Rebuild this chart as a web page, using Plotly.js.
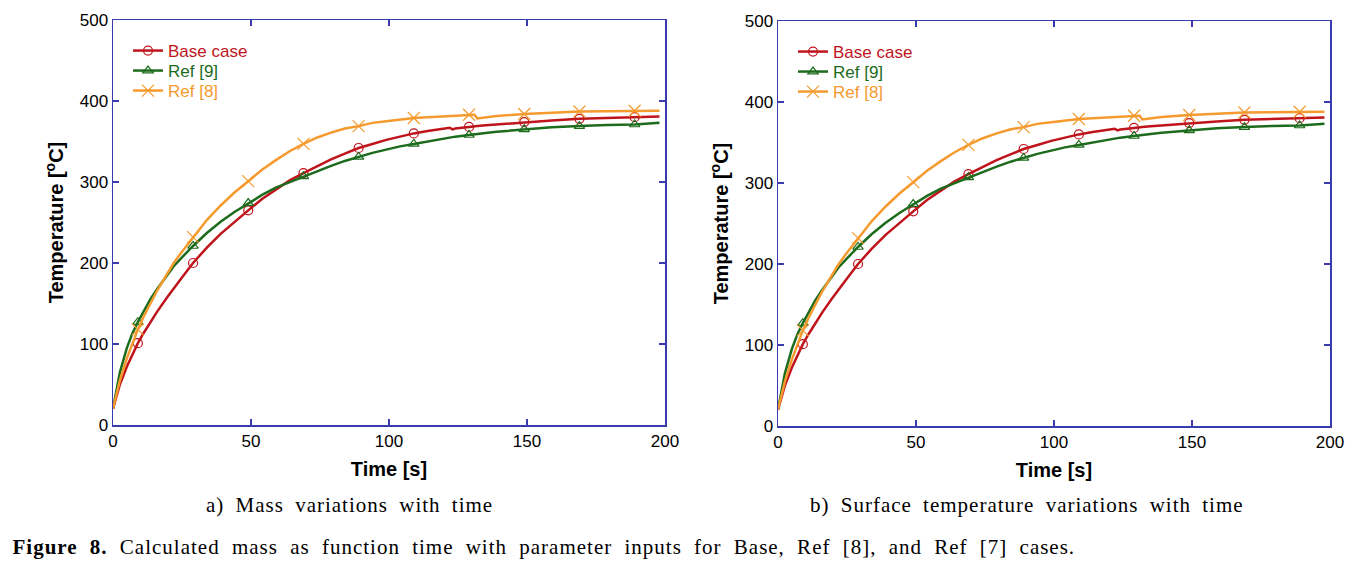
<!DOCTYPE html>
<html>
<head>
<meta charset="utf-8">
<script src="https://cdn.plot.ly/plotly-3.0.1.min.js"></script>
<style>
html, body { margin: 0; padding: 0; background: #ffffff; }
#chart { width: 1365px; height: 564px; }
.annotation-text { letter-spacing: 1px; word-spacing: 5px; }
.annotation[data-index="2"] .annotation-text { letter-spacing: 1px; word-spacing: 6px; }
</style>
</head>
<body>
<div id="chart"></div>
<script>
// ---- data ----
const timeS = [0, 1, 2.5, 5, 7, 9, 11, 13.5, 16, 19.5, 22, 25, 29, 34, 39, 44, 49, 54, 59, 64, 69, 74, 79, 84, 89, 94, 99, 104, 109, 114, 119, 122, 123, 124, 129, 131, 132, 135, 139, 149, 159, 169, 179, 189, 198];
const baseCase = [20, 33, 50, 72, 87, 101, 113, 127, 140, 157, 169, 182, 200, 219, 236, 251, 265, 279, 291, 302, 311, 320, 328, 335, 342, 347, 352, 356, 360, 363, 366, 367, 365, 366, 368, 369, 369, 370, 371, 374, 376, 378, 379, 380, 381];
const ref9 = [20, 40, 65, 95, 113, 127, 140, 155, 168, 185, 196, 207, 221, 237, 251, 263, 274, 284, 293, 300, 307, 314, 320, 326, 331, 336, 340, 344, 347, 350, 353, 355, 355.5, 356, 358, 359, 359.5, 360.5, 362, 365, 367.5, 369, 370.5, 371, 373];
const ref8 = [20, 35, 55, 82, 101, 118, 133, 150, 166, 186, 200, 214, 232, 253, 271, 287, 301, 315, 327, 338, 347, 355, 361, 366, 369, 373, 375, 377, 379, 380, 381, 382, 382, 382, 383, 383, 378.5, 380, 381.5, 384, 385.5, 387, 387.5, 388, 388];
const markerTimes = [9, 29, 49, 69, 89, 109, 129, 149, 169, 189];
const seriesNames = ['Base case', 'Ref [9]', 'Ref [8]'];
const xTicks = [0, 50, 100, 150, 200];
const yTicks = [0, 100, 200, 300, 400, 500];
const subCaptions = ['a) Mass variations with time', 'b) Surface temperature variations with time'];
const figCaptionBold = 'Figure 8.';
const figCaptionText = ' Calculated mass as function time with parameter inputs for Base, Ref [8], and Ref [7] cases.';

// ---- styling ----
const seriesValues = [baseCase, ref9, ref8];
const colors = ['#c0141c', '#1d6b1d', '#f59a2e'];
const symbols = ['circle-open', 'triangle-up-open', 'x-thin-open'];
const markerSizes = [9, 9, 12];
const axisColor = '#3b3bb0';
const sansFont = '"Liberation Sans", Arial, sans-serif';
const serifFont = '"Liberation Serif", "Times New Roman", serif';

const W = 1365, H = 564;
const panels = [
  { x0: 113, x1: 665, y0: 20, y1: 425, xa: 'x', ya: 'y', legendX: 128, legendY: [51, 71, 91], cap: 349 },
  { x0: 778, x1: 1330, y0: 21, y1: 426, xa: 'x2', ya: 'y2', legendX: 793, legendY: [52, 72, 92], cap: 1027 }
];

const traces = [];
const layout = {
  width: W, height: H,
  margin: { l: 0, r: 0, t: 0, b: 0 },
  paper_bgcolor: '#ffffff',
  plot_bgcolor: '#ffffff',
  showlegend: true,
  font: { family: sansFont, color: '#000000' },
  annotations: []
};

function markerIdx(t) { return timeS.indexOf(t); }

panels.forEach((p, pi) => {
  const xName = pi === 0 ? 'xaxis' : 'xaxis2';
  const yName = pi === 0 ? 'yaxis' : 'yaxis2';
  const common = {
    showline: true, linecolor: axisColor, linewidth: 1.5, mirror: 'ticks',
    ticks: 'inside', ticklen: 6, tickwidth: 1.2, tickcolor: axisColor,
    showgrid: false, zeroline: false, automargin: false,
    tickfont: { family: sansFont, size: 17, color: '#000000' }
  };
  layout[xName] = Object.assign({}, common, {
    domain: [p.x0 / W, p.x1 / W], range: [0, 200], tickvals: xTicks,
    anchor: p.ya,
    title: { text: 'Time [s]', font: { family: sansFont, size: 20, weight: 'bold', color: '#000' }, standoff: 12 }
  });
  layout[yName] = Object.assign({}, common, {
    domain: [1 - p.y1 / H, 1 - p.y0 / H], range: [0, 500], tickvals: yTicks,
    anchor: p.xa,
    title: { text: 'Temperature [<sup>o</sup>C]', font: { family: sansFont, size: 20, weight: 'bold', color: '#000' }, standoff: 10 }
  });

  seriesValues.forEach((vals, si) => {
    const legName = 'legend' + (pi * 3 + si === 0 ? '' : (pi * 3 + si + 1));
    traces.push({
      x: timeS, y: vals, xaxis: p.xa, yaxis: p.ya, mode: 'lines',
      line: { color: colors[si], width: 2.5 }, showlegend: false, hoverinfo: 'skip'
    });
    traces.push({
      x: markerTimes, y: markerTimes.map(t => vals[markerIdx(t)]),
      xaxis: p.xa, yaxis: p.ya, mode: 'markers',
      marker: { symbol: symbols[si], size: markerSizes[si], color: colors[si], line: { color: colors[si], width: 1.2 } },
      showlegend: false, hoverinfo: 'skip'
    });
    traces.push({
      x: [null], y: [null], xaxis: p.xa, yaxis: p.ya, mode: 'lines+markers', name: seriesNames[si],
      line: { color: colors[si], width: 2.5 },
      marker: { symbol: symbols[si], size: markerSizes[si], color: colors[si], line: { color: colors[si], width: 1.2 } },
      legend: legName, showlegend: true
    });
    layout[legName] = {
      x: p.legendX / W, y: 1 - p.legendY[si] / H, xanchor: 'left', yanchor: 'middle',
      bgcolor: 'rgba(0,0,0,0)', borderwidth: 0,
      font: { family: sansFont, size: 17, color: colors[si] },
      tracegroupgap: 0, itemwidth: 30
    };
  });

  layout.annotations.push({
    text: subCaptions[pi], xref: 'paper', yref: 'paper',
    x: p.cap / W, y: 1 - 505 / H, xanchor: 'center', yanchor: 'middle', showarrow: false,
    font: { family: serifFont, size: 21, color: '#000' }
  });
});

layout.annotations.push({
  text: '<b>' + figCaptionBold + '</b>' + figCaptionText, xref: 'paper', yref: 'paper',
  x: 544 / W, y: 1 - 547 / H, xanchor: 'center', yanchor: 'middle', showarrow: false,
  font: { family: serifFont, size: 21, color: '#000' }
});

Plotly.newPlot('chart', traces, layout, { displayModeBar: false, staticPlot: true });
</script>
</body>
</html>
